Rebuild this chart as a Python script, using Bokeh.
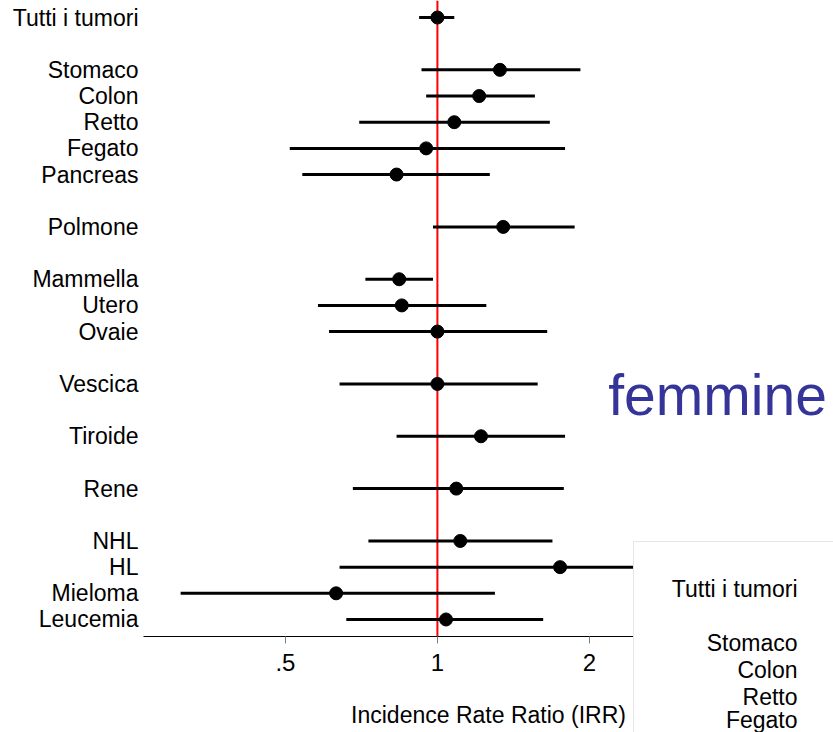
from bokeh.plotting import figure
from bokeh.models import Range1d, FixedTicker, Span, Label, ColumnDataSource
from bokeh.embed import file_html
from bokeh.resources import INLINE

# ---- data ----
categories = ["Tutti i tumori", "Stomaco", "Colon", "Retto", "Fegato", "Pancreas",
              "Polmone", "Mammella", "Utero", "Ovaie", "Vescica", "Tiroide", "Rene",
              "NHL", "HL", "Mieloma", "Leucemia"]
positions = [0, 2, 3, 4, 5, 6, 8, 10, 11, 12, 14, 16, 18, 20, 21, 22, 23]
irr =      [1.00, 1.33, 1.21, 1.08, 0.95, 0.83, 1.35, 0.84, 0.85, 1.00, 1.00, 1.22, 1.09, 1.11, 1.75, 0.63, 1.04]
ci_low =   [0.92, 0.93, 0.95, 0.70, 0.51, 0.54, 0.98, 0.72, 0.58, 0.61, 0.64, 0.83, 0.68, 0.73, 0.64, 0.31, 0.66]
ci_high =  [1.08, 1.92, 1.56, 1.67, 1.79, 1.27, 1.87, 0.98, 1.25, 1.65, 1.58, 1.79, 1.78, 1.69, 3.60, 1.30, 1.62]
tick_values = [0.5, 1, 2]
tick_labels = [".5", "1", "2"]
overlay_categories = categories[:6]
overlay_positions = positions[:6]

FONT = "Liberation Sans"

p = figure(width=833, height=732, x_axis_type="log",
           x_range=Range1d(0.2617, 6.09), y_range=Range1d(23.65, -0.65),
           output_backend="svg", toolbar_location=None,
           min_border_left=143, min_border_right=0, min_border_top=0, min_border_bottom=96)
p.outline_line_color = None
p.xgrid.grid_line_color = None
p.ygrid.grid_line_color = None
p.background_fill_color = "white"
p.border_fill_color = "white"

# reference line at IRR = 1
p.add_layout(Span(location=1, dimension="height", line_color="#ff0000",
                  line_width=2, level="underlay"))

src = ColumnDataSource(dict(y=positions, irr=irr, lo=ci_low, hi=ci_high))
p.segment(x0="lo", y0="y", x1="hi", y1="y", source=src, line_color="black", line_width=3)
p.scatter(x="irr", y="y", source=src, size=13, color="black")

# x axis
xa = p.xaxis[0]
xa.ticker = FixedTicker(ticks=tick_values)
xa.major_label_overrides = {v: l for v, l in zip(tick_values, tick_labels)}
xa.minor_tick_line_color = None
xa.major_tick_in = 0
xa.major_tick_out = 7
xa.major_tick_line_color = "#808080"
xa.axis_line_color = "black"
xa.major_label_text_font = FONT
xa.major_label_text_font_size = "24px"
xa.major_label_text_color = "black"
xa.major_label_standoff = 10
xa.axis_label = "Incidence Rate Ratio (IRR)"
xa.axis_label_text_font = FONT
xa.axis_label_text_font_size = "23px"
xa.axis_label_text_font_style = "normal"
xa.axis_label_text_color = "black"
xa.axis_label_standoff = 28

# y axis: category labels
ya = p.yaxis[0]
ya.ticker = FixedTicker(ticks=positions)
ya.major_label_overrides = {pos: c for pos, c in zip(positions, categories)}
ya.axis_line_color = None
ya.major_tick_line_color = None
ya.minor_tick_line_color = None
ya.major_tick_in = 0
ya.major_tick_out = 0
ya.major_label_standoff = 5
ya.major_label_text_font = FONT
ya.major_label_text_font_size = "23px"
ya.major_label_text_color = "black"

# slide title text
p.add_layout(Label(x=2.18, y=14.42, text="femmine", text_font=FONT,
                   text_font_size="57px", text_color="#343499",
                   text_baseline="alphabetic", text_align="left"))

# overlapping second chart (only its top-left corner is visible)
p2 = figure(width=200, height=191, x_range=Range1d(0, 1), y_range=Range1d(5.37, -1.704),
            output_backend="svg", toolbar_location=None,
            min_border_left=168, min_border_right=0, min_border_top=0, min_border_bottom=0,
            styles={"position": "absolute", "left": "633px", "top": "541px", "z-index": "10",
                    "border-top": "1px solid #e6e6e6", "border-left": "1px solid #e6e6e6",
                    "background-color": "white"})
p2.outline_line_color = None
p2.xgrid.grid_line_color = None
p2.ygrid.grid_line_color = None
p2.xaxis.visible = False
p2.background_fill_color = "white"
p2.border_fill_color = "white"
ya2 = p2.yaxis[0]
ya2.ticker = FixedTicker(ticks=overlay_positions)
ya2.major_label_overrides = {pos: c for pos, c in zip(overlay_positions, overlay_categories)}
ya2.axis_line_color = None
ya2.major_tick_line_color = None
ya2.minor_tick_line_color = None
ya2.major_tick_in = 0
ya2.major_tick_out = 0
ya2.major_label_standoff = 5
ya2.major_label_text_font = FONT
ya2.major_label_text_font_size = "23px"
ya2.major_label_text_color = "black"

open("out.html", "w").write(file_html([p, p2], INLINE))
